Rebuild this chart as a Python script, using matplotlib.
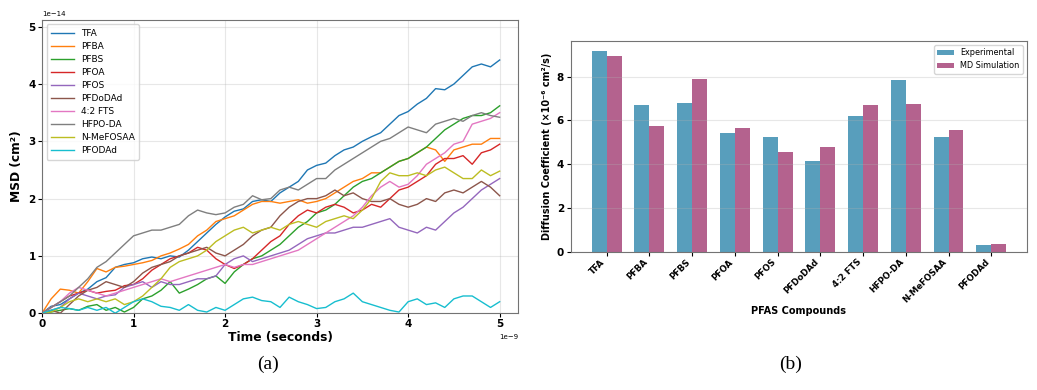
import matplotlib
matplotlib.use("Agg")
import matplotlib.pyplot as plt
import numpy as np

# --- (a) MSD curves, time in units of 1e-9 s, MSD in units of 1e-14 cm^2 ---
time_ns = [0.0, 0.1, 0.2, 0.3, 0.4, 0.5, 0.6, 0.7, 0.8, 0.9,
           1.0, 1.1, 1.2, 1.3, 1.4, 1.5, 1.6, 1.7, 1.8, 1.9,
           2.0, 2.1, 2.2, 2.3, 2.4, 2.5, 2.6, 2.7, 2.8, 2.9,
           3.0, 3.1, 3.2, 3.3, 3.4, 3.5, 3.6, 3.7, 3.8, 3.9,
           4.0, 4.1, 4.2, 4.3, 4.4, 4.5, 4.6, 4.7, 4.8, 4.9, 5.0]

msd_tfa = [0, 0.12, 0.15, 0.25, 0.35, 0.42, 0.55, 0.62, 0.8, 0.85,
           0.88, 0.95, 0.98, 0.95, 1.0, 0.98, 1.1, 1.25, 1.4, 1.55,
           1.68, 1.78, 1.82, 1.95, 1.98, 1.95, 2.1, 2.2, 2.3, 2.5,
           2.58, 2.62, 2.75, 2.85, 2.9, 3.0, 3.08, 3.15, 3.3, 3.45,
           3.52, 3.65, 3.75, 3.92, 3.9, 4.0, 4.15, 4.3, 4.35, 4.3, 4.42]
msd_pfba = [0, 0.25, 0.42, 0.4, 0.35, 0.55, 0.78, 0.72, 0.8, 0.82,
            0.85, 0.88, 0.92, 1.0, 1.05, 1.12, 1.2, 1.35, 1.45, 1.6,
            1.65, 1.7, 1.8, 1.9, 1.95, 1.95, 1.92, 1.95, 1.98, 1.92,
            1.95, 2.0, 2.1, 2.2, 2.3, 2.35, 2.45, 2.45, 2.55, 2.65,
            2.7, 2.8, 2.9, 2.85, 2.65, 2.85, 2.9, 2.95, 2.95, 3.05, 3.05]
msd_pfbs = [0, 0.02, 0.05, 0.08, 0.05, 0.12, 0.15, 0.05, 0.1, 0.02,
            0.1, 0.25, 0.3, 0.4, 0.55, 0.35, 0.42, 0.5, 0.6, 0.65,
            0.52, 0.72, 0.85, 0.95, 1.0, 1.1, 1.2, 1.35, 1.5, 1.6,
            1.75, 1.8, 1.9, 2.05, 2.2, 2.3, 2.35, 2.45, 2.55, 2.65,
            2.7, 2.8, 2.9, 3.05, 3.2, 3.3, 3.4, 3.45, 3.45, 3.5, 3.62]
msd_pfoa = [0, 0.1, 0.2, 0.3, 0.35, 0.4, 0.35, 0.38, 0.4, 0.48,
            0.5, 0.6, 0.75, 0.85, 0.95, 1.0, 1.05, 1.15, 1.1, 0.95,
            0.85, 0.78, 0.85, 0.95, 1.1, 1.25, 1.35, 1.55, 1.7, 1.8,
            1.75, 1.85, 1.9, 1.85, 1.75, 1.8, 1.9, 1.85, 2.0, 2.15,
            2.2, 2.3, 2.4, 2.6, 2.7, 2.7, 2.75, 2.6, 2.8, 2.85, 2.95]
msd_pfos = [0, 0.05, 0.1, 0.25, 0.35, 0.3, 0.25, 0.3, 0.32, 0.45,
            0.5, 0.55, 0.45, 0.55, 0.5, 0.5, 0.55, 0.6, 0.6, 0.65,
            0.85, 0.95, 1.0, 0.9, 0.95, 1.0, 1.05, 1.1, 1.2, 1.3,
            1.35, 1.4, 1.4, 1.45, 1.5, 1.5, 1.55, 1.6, 1.65, 1.5,
            1.45, 1.4, 1.5, 1.45, 1.6, 1.75, 1.85, 2.0, 2.15, 2.25, 2.35]
msd_pfdodad = [0, 0.05, 0.0, 0.15, 0.3, 0.4, 0.45, 0.55, 0.5, 0.45,
               0.55, 0.7, 0.8, 0.85, 0.9, 1.0, 1.05, 1.1, 1.15, 1.05,
               1.0, 1.1, 1.2, 1.35, 1.45, 1.5, 1.7, 1.85, 1.95, 2.0,
               2.0, 2.05, 2.15, 2.05, 2.1, 2.0, 1.95, 1.95, 2.0, 1.9,
               1.85, 1.9, 2.0, 1.95, 2.1, 2.15, 2.1, 2.2, 2.3, 2.2, 2.05]
msd_fts = [0, 0.1, 0.2, 0.35, 0.45, 0.4, 0.35, 0.3, 0.35, 0.4,
           0.45, 0.5, 0.55, 0.6, 0.55, 0.6, 0.65, 0.7, 0.75, 0.8,
           0.85, 0.8, 0.85, 0.85, 0.9, 0.95, 1.0, 1.05, 1.1, 1.2,
           1.3, 1.4, 1.5, 1.6, 1.7, 1.85, 2.05, 2.2, 2.3, 2.2,
           2.25, 2.4, 2.6, 2.7, 2.8, 2.95, 3.0, 3.3, 3.35, 3.4, 3.5]
msd_hfpo = [0, 0.1, 0.2, 0.3, 0.45, 0.6, 0.8, 0.9, 1.05, 1.2,
            1.35, 1.4, 1.45, 1.45, 1.5, 1.55, 1.7, 1.8, 1.75, 1.72,
            1.75, 1.85, 1.9, 2.05, 1.98, 2.0, 2.15, 2.2, 2.15, 2.25,
            2.35, 2.35, 2.5, 2.6, 2.7, 2.8, 2.9, 3.0, 3.05, 3.15,
            3.25, 3.2, 3.15, 3.3, 3.35, 3.4, 3.35, 3.45, 3.5, 3.45, 3.42]
msd_nmefosaa = [0, 0.02, 0.1, 0.2, 0.25, 0.2, 0.25, 0.2, 0.25, 0.15,
                0.2, 0.3, 0.45, 0.6, 0.8, 0.9, 0.95, 1.0, 1.1, 1.25,
                1.35, 1.45, 1.5, 1.4, 1.45, 1.5, 1.45, 1.55, 1.6, 1.55,
                1.5, 1.6, 1.65, 1.7, 1.65, 1.8, 2.0, 2.3, 2.45, 2.4,
                2.4, 2.45, 2.4, 2.5, 2.55, 2.45, 2.35, 2.35, 2.5, 2.4, 2.48]
msd_pfodad = [0, 0.05, 0.1, 0.08, 0.05, 0.1, 0.05, 0.1, 0.0, 0.1,
              0.2, 0.25, 0.2, 0.12, 0.1, 0.05, 0.15, 0.05, 0.02, 0.1,
              0.05, 0.15, 0.25, 0.28, 0.22, 0.2, 0.1, 0.28, 0.2, 0.15,
              0.08, 0.1, 0.2, 0.25, 0.35, 0.2, 0.15, 0.1, 0.05, 0.02,
              0.2, 0.25, 0.15, 0.18, 0.1, 0.25, 0.3, 0.3, 0.2, 0.1, 0.2]

line_names = ['TFA', 'PFBA', 'PFBS', 'PFOA', 'PFOS', 'PFDoDAd', '4:2 FTS',
              'HFPO-DA', 'N-MeFOSAA', 'PFODAd']
line_values = [msd_tfa, msd_pfba, msd_pfbs, msd_pfoa, msd_pfos, msd_pfdodad,
               msd_fts, msd_hfpo, msd_nmefosaa, msd_pfodad]

# --- (b) diffusion coefficients (x1e-6 cm^2/s) ---
compounds = ['TFA', 'PFBA', 'PFBS', 'PFOA', 'PFOS', 'PFDoDAd', '4:2 FTS',
             'HFPO-DA', 'N-MeFOSAA', 'PFODAd']
experimental = [9.18, 6.71, 6.79, 5.45, 5.25, 4.16, 6.21, 7.84, 5.24, 0.31]
md_simulation = [8.94, 5.77, 7.89, 5.66, 4.57, 4.81, 6.70, 6.74, 5.57, 0.34]

fig = plt.figure(figsize=(10.37, 3.9), dpi=100)

# panel (a)
ax1 = fig.add_axes([0.0405, 0.197, 0.459, 0.752])
t = np.array(time_ns) * 1e-9
for name, vals in zip(line_names, line_values):
    ax1.plot(t, np.array(vals) * 1e-14, label=name, linewidth=1.0)
ax1.set_xlim(0, 5.2e-9)
ax1.set_ylim(0, 5.12e-14)
ax1.set_xlabel('Time (seconds)', fontsize=8.8, fontweight='bold', labelpad=1)
ax1.set_ylabel('MSD (cm²)', fontsize=8.8, fontweight='bold', labelpad=4)
ax1.tick_params(labelsize=7.5, length=3, pad=1.5)
for lab in ax1.get_xticklabels() + ax1.get_yticklabels():
    lab.set_fontweight('bold')
ax1.xaxis.get_offset_text().set_fontsize(5)
ax1.yaxis.get_offset_text().set_fontsize(5)
ax1.grid(True, alpha=0.3)
for sp in ax1.spines.values():
    sp.set_color('0.45')
ax1.legend(loc='upper left', fontsize=6.5, handlelength=2.5,
           labelspacing=0.45, borderpad=0.5, framealpha=0.8)

# panel (b)
ax2 = fig.add_axes([0.5506, 0.354, 0.4397, 0.541])
x = np.arange(len(compounds))
width = 0.35
ax2.bar(x - width/2, experimental, width, label='Experimental',
        color='#2E86AB', alpha=0.8)
ax2.bar(x + width/2, md_simulation, width, label='MD Simulation',
        color='#A23B72', alpha=0.8)
ax2.set_xticks(x)
ax2.set_xticklabels(compounds, rotation=45, ha='right', fontsize=6.2,
                    fontweight='bold')
ax2.tick_params(axis='y', labelsize=7.5, length=3, pad=2)
ax2.tick_params(axis='x', length=3, pad=1)
for lab in ax2.get_yticklabels():
    lab.set_fontweight('bold')
ax2.set_yticks([0, 2, 4, 6, 8])
ax2.set_ylim(0, 9.63)
ax2.set_xlabel('PFAS Compounds', fontsize=7, fontweight='bold', labelpad=1)
ax2.set_ylabel('Diffusion Coefficient (×10⁻⁶ cm²/s)', fontsize=6.9,
               fontweight='bold', labelpad=3)
ax2.grid(True, axis='y', alpha=0.3)
for sp in ax2.spines.values():
    sp.set_color('0.45')
ax2.legend(loc='upper right', fontsize=5.9, framealpha=0.8)

fig.text(0.258, 0.067, '(a)', fontsize=14, family='Liberation Serif',
         ha='center', va='center')
fig.text(0.762, 0.067, '(b)', fontsize=14, family='Liberation Serif',
         ha='center', va='center')

fig.savefig('out.png', dpi=100)
